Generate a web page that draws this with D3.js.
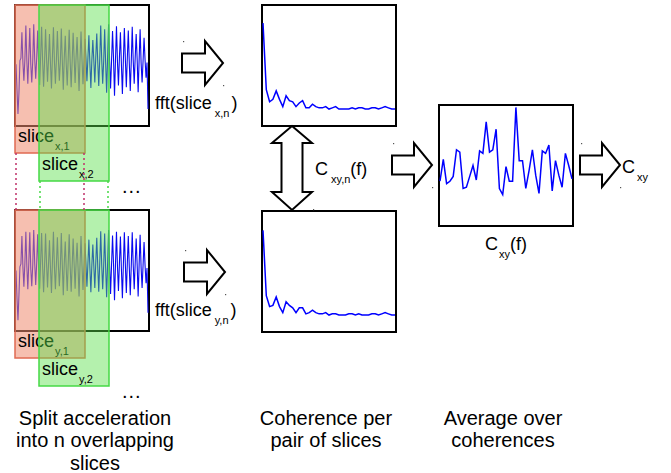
<!DOCTYPE html>
<html><head><meta charset="utf-8">
<script src="https://cdn.jsdelivr.net/npm/d3@7"></script>
<style>
body{margin:0;background:#fff}
text{font-family:"Liberation Sans",Arial,Helvetica,sans-serif;fill:#000}
</style>
</head><body>
<svg id="c" width="671" height="473"></svg>
<script>
// ---------- data ----------
const accX = [
0.02,-0.40,-0.80,-0.45,0.08,
0.12,0.55,0.05,-0.25, 0.10,0.66,0.08,-0.30, 0.15,0.62,0.02,-0.28, 0.08,0.68,0.10,-0.22,
0.12,0.58,0.04,-0.32, 0.14,0.64,0.09,-0.35, 0.06,0.60,0.12,-0.27, 0.10,0.52,0.03,-0.38,
0.16,0.63,0.07,-0.30, 0.09,0.57,0.11,-0.25, 0.05,0.61,0.08,-0.40, 0.13,0.49,0.02,-0.33,
0.11,0.59,0.06,-0.36, 0.07,0.54,0.12,-0.29, 0.14,0.47,0.04,-0.42, 0.10,0.56,0.09,-0.31,
0.06,0.44,0.13,-0.26, 0.12,0.50,0.03,-0.37, 0.09,0.42,0.08,-0.28, 0.15,0.53,0.05,-0.34,
0.11,0.66,0.10,-0.30, 0.07,0.60,0.04,-0.45, 0.13,0.68,0.09,-0.38, 0.08,0.57,0.12,-0.50,
0.10,0.65,0.06,-0.33, 0.14,0.55,0.02,-0.47, 0.09,0.62,0.11,-0.36, 0.12,0.58,0.05,-0.42,
0.06,0.64,0.08,-0.30, 0.13,0.52,0.10,-0.44, 0.10,0.60,0.04,-0.28, 0.08,0.46,0.10,-0.20,
0.05,-0.72];
const accY = [
0.00,-0.45,-0.82,-0.40,0.06,
0.11,0.57,0.06,-0.27, 0.12,0.64,0.07,-0.31, 0.13,0.63,0.03,-0.26, 0.09,0.67,0.11,-0.24,
0.12,0.60,0.05,-0.30, 0.15,0.62,0.08,-0.36, 0.07,0.61,0.12,-0.28, 0.10,0.50,0.04,-0.37,
0.15,0.64,0.06,-0.31, 0.10,0.55,0.10,-0.26, 0.06,0.62,0.09,-0.41, 0.12,0.48,0.03,-0.34,
0.11,0.60,0.07,-0.35, 0.08,0.53,0.11,-0.30, 0.13,0.46,0.05,-0.43, 0.10,0.57,0.08,-0.32,
0.07,0.45,0.12,-0.27, 0.11,0.51,0.04,-0.36, 0.09,0.43,0.07,-0.29, 0.14,0.54,0.06,-0.35,
0.12,0.65,0.09,-0.31, 0.08,0.61,0.05,-0.44, 0.12,0.67,0.10,-0.39, 0.09,0.58,0.11,-0.49,
0.10,0.64,0.07,-0.34, 0.13,0.56,0.03,-0.46, 0.10,0.63,0.10,-0.37, 0.11,0.57,0.06,-0.41,
0.07,0.63,0.09,-0.31, 0.12,0.53,0.09,-0.43, 0.10,0.59,0.05,-0.29, 0.09,0.47,0.09,-0.21,
0.04,-0.70];
const fftX = [0.85,0.30,0.20,0.22,0.29,0.22,0.16,0.25,0.21,0.20,0.16,0.19,0.21,0.15,0.15,0.18,0.16,0.15,0.15,0.16,0.14,
              0.15,0.16,0.14,0.14,0.14,0.14,0.15,0.14,0.15,0.15,0.14,0.14,0.15,0.15,0.14,0.15,0.16,0.15,0.14,0.14];
const fftY = [0.84,0.30,0.21,0.22,0.29,0.21,0.16,0.25,0.22,0.20,0.16,0.20,0.20,0.15,0.16,0.18,0.16,0.15,0.15,0.16,0.14,
              0.15,0.15,0.14,0.14,0.14,0.15,0.15,0.14,0.15,0.14,0.14,0.14,0.15,0.15,0.14,0.15,0.16,0.15,0.14,0.14];
const cohAvg = [0.37,0.55,0.35,0.37,0.41,0.63,0.61,0.31,0.32,0.41,0.50,0.38,0.62,0.60,0.86,0.61,0.63,0.80,0.31,0.26,0.49,
                0.37,0.37,0.98,0.54,0.54,0.31,0.46,0.63,0.42,0.27,0.62,0.60,0.67,0.29,0.54,0.42,0.32,0.60,0.50,0.39];
const recordLength = 134;          // samples in the record
const sliceStarts = [0, 24];       // first two slices
const sliceLength = 70;
const sliceNames = ["1", "2"];
const stepLabels = ["Split acceleration|into n overlapping|slices", "Coherence per|pair of slices", "Average over|coherences"];

// ---------- drawing ----------
const svg = d3.select("#c");
const FONT = 18, SUB = 11;

function label(g, x, y, parts, size) {
  const t = g.append("text").attr("x", x).attr("y", y).style("font-size", (size||FONT) + "px");
  let down = false;
  parts.forEach(([s, sub, dx]) => {
    const ts = t.append("tspan").text(s);
    if (sub && !down) { ts.attr("dy", 8).style("font-size", SUB + "px"); down = true; }
    else if (!sub && down) { ts.attr("dy", -8); down = false; }
    else if (sub) ts.style("font-size", SUB + "px");
    if (dx) ts.attr("dx", dx);
  });
  return t;
}

function arrowPath(x0, cy, len) {
  const bh = 9.5, hh = 22, hl = 18, x1 = x0 + len - hl, x2 = x0 + len;
  return `M${x0},${cy-bh}H${x1}V${cy-hh}L${x2},${cy}L${x1},${cy+hh}V${cy+bh}H${x0}Z`;
}
function drawArrow(x0, cy, len) {
  svg.append("path").attr("d", arrowPath(x0, cy, len))
    .attr("fill", "#fff").attr("stroke", "#000").attr("stroke-width", 2).attr("stroke-linejoin", "miter");
  [[x0+1, cy-22], [x0+len, cy+22]].forEach(([a,b]) =>
    svg.append("rect").attr("x", a).attr("y", b).attr("width", 1.2).attr("height", 1.2).attr("fill", "#555"));
}

// signal panels with slices
function signalPanel(top, data, axisName) {
  const g = svg.append("g");
  const bx = d3.scaleLinear().domain([0, recordLength]).range([15, 149]);
  const x = d3.scaleLinear().domain([0, data.length - 1]).range([16, 148]);
  const y = d3.scaleLinear().domain([-1, 1]).range([top + 121, top]);
  g.append("rect").attr("x", 15).attr("y", top).attr("width", 134).attr("height", 121)
    .attr("fill", "#fff").attr("stroke", "#000").attr("stroke-width", 2);
  g.append("path").datum(data)
    .attr("d", d3.line().x((d, i) => x(i)).y(d => y(d)))
    .attr("fill", "none").attr("stroke", "#0a0af0").attr("stroke-width", 1.1);
  const fills = ["#ef8a70", "#58e04a"], ops = [0.55, 0.45], strokes = ["#e06a52", "#45d945"];
  const extra = [27, 55];
  sliceStarts.forEach((s, k) => {
    g.append("rect").attr("x", bx(s)).attr("y", top)
      .attr("width", bx(s + sliceLength) - bx(s)).attr("height", 121 + extra[k])
      .attr("fill", fills[k]).attr("fill-opacity", ops[k])
      .attr("stroke", strokes[k]).attr("stroke-width", 1.5);
    label(g, bx(s) + 3, top + 137 + 28 * k, [["slice"], [axisName + "," + sliceNames[k], true, 1]]);
  });
  g.append("text").attr("x", 122).attr("y", top + 188).style("font-size", "20px")
    .style("letter-spacing", "1px").text("...");
  return bx;
}
const bx = signalPanel(5, accX, "x");
signalPanel(210, accY, "y");

// dotted connectors between the two panels (slice edges)
const dotCol = ["#c0306a", "#45d945"], dotTop = [153, 181];
sliceStarts.forEach((s, k) => {
  [bx(s) + 1, bx(s + sliceLength) - 1].forEach(xx =>
    svg.append("line").attr("x1", xx).attr("x2", xx).attr("y1", dotTop[k]).attr("y2", 210)
      .attr("stroke", dotCol[k]).attr("stroke-width", 1.5).attr("stroke-dasharray", "2,3"));
});

// fft panels
function fftPanel(top, data) {
  const x = d3.scaleLinear().domain([0, data.length - 1]).range([263, 395]);
  const y = d3.scaleLinear().domain([0, 1]).range([top + 121, top]);
  svg.append("rect").attr("x", 262).attr("y", top).attr("width", 134).attr("height", 121)
    .attr("fill", "#fff").attr("stroke", "#000").attr("stroke-width", 2);
  svg.append("path").datum(data).attr("d", d3.line().x((d, i) => x(i)).y(d => y(d)))
    .attr("fill", "none").attr("stroke", "#0000ff").attr("stroke-width", 1.5);
}
fftPanel(5, fftX);
fftPanel(211, fftY);

// average coherence panel
{
  const x = d3.scaleLinear().domain([0, cohAvg.length - 1]).range([440, 572]);
  const y = d3.scaleLinear().domain([0, 1]).range([226, 105]);
  svg.append("rect").attr("x", 439).attr("y", 105).attr("width", 134).attr("height", 121)
    .attr("fill", "#fff").attr("stroke", "#000").attr("stroke-width", 2);
  svg.append("path").datum(cohAvg).attr("d", d3.line().x((d, i) => x(i)).y(d => y(d)))
    .attr("fill", "none").attr("stroke", "#0000ff").attr("stroke-width", 1.5);
}

// arrows
drawArrow(182, 63, 41);
drawArrow(184, 272, 41);
drawArrow(392, 165, 40);
drawArrow(580, 165, 40);
svg.append("path")
  .attr("d", "M292,126L312,143H302.5V192H312L292,210L272,192H281.5V143H272Z")
  .attr("fill", "#fff").attr("stroke", "#000").attr("stroke-width", 2);
svg.append("rect").attr("x", 313).attr("y", 209).attr("width", 1.2).attr("height", 1.2).attr("fill", "#555");

// labels
label(svg, 155, 109, [["fft(slice"], ["x,n", true, 3], [")", false, 2]]);
label(svg, 155, 316, [["fft(slice"], ["y,n", true, 3], [")", false, 2]]);
label(svg, 315, 175, [["C"], ["xy,n", true, 3], ["(f)", false, 0]]);
label(svg, 622, 173, [["C"], ["xy", true, 2]]);
label(svg, 485, 250, [["C"], ["xy", true, 1], ["(f)", false, 0]]);

const centers = [95, 326, 503];
stepLabels.forEach((s, k) => {
  s.split("|").forEach((line, j) =>
    svg.append("text").attr("x", centers[k]).attr("y", 425 + 22.3 * j)
      .attr("text-anchor", "middle").style("font-size", "20px").text(line));
});
</script>
</body></html>
